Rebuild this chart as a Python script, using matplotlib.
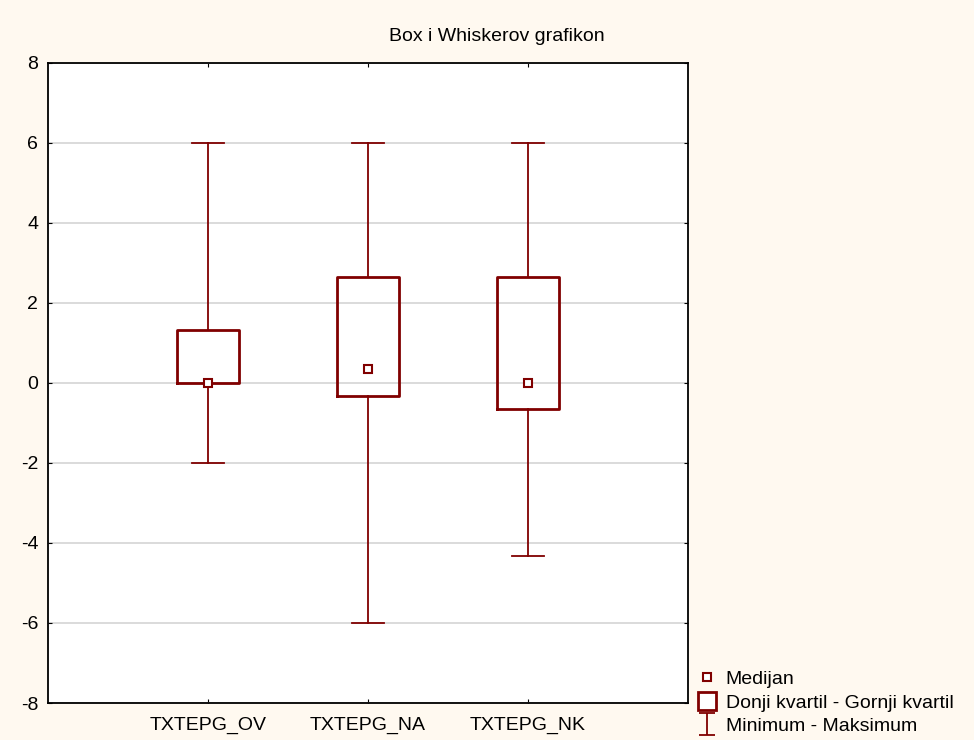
import matplotlib
matplotlib.use("Agg")
import matplotlib.pyplot as plt
from matplotlib.lines import Line2D
from matplotlib.path import Path

plt.rcParams['font.family'] = ['Liberation Sans', 'DejaVu Sans']
plt.rcParams['axes.unicode_minus'] = False

# Box-whisker stats
labels = ["TXTEPG_OV", "TXTEPG_NA", "TXTEPG_NK"]
medians = [0.0, 0.35, 0.0]
q1 = [0.0, -0.32, -0.65]
q3 = [1.32, 2.65, 2.65]
mins = [-2.0, -6.0, -4.33]
maxs = [6.0, 6.0, 6.0]

red = "#800000"
bg = "#FFF9F0"

fig = plt.figure(figsize=(9.74, 7.4), dpi=100, facecolor=bg)
ax = fig.add_axes([0.0493, 0.05, 0.657, 0.865])
ax.set_facecolor("white")

stats = []
for i in range(len(labels)):
    stats.append(dict(med=medians[i], q1=q1[i], q3=q3[i],
                      whislo=mins[i], whishi=maxs[i], label=labels[i]))

pos = [1, 2, 3]
ax.bxp(stats, positions=pos, widths=0.39, capwidths=0.2, showfliers=False,
       boxprops=dict(color=red, linewidth=2),
       whiskerprops=dict(color=red, linewidth=1.3),
       capprops=dict(color=red, linewidth=1.3),
       medianprops=dict(linewidth=0), zorder=3)
ax.plot(pos, medians, 's', ms=6, mfc="white", mec=red, mew=1.5, zorder=4)

ax.set_xlim(0, 4)
ax.set_ylim(-8, 8)
ax.set_yticks(range(-8, 9, 2))
ax.set_xticks(pos)
ax.set_xticklabels(labels)
ax.yaxis.grid(True, color="#d8d8d8", linewidth=1.3)
ax.set_axisbelow(True)
ax.tick_params(direction="in", length=3, labelsize=14, top=True, right=True)
ax.tick_params(axis="y", pad=7)
ax.tick_params(axis="x", pad=10)
for s in ax.spines.values():
    s.set_linewidth(1.3)

fig.text(0.51, 0.951, "Box i Whiskerov grafikon", ha="center", va="center", fontsize=14)

# I-shaped marker for the min-max legend entry
ibar = Path([(-0.7, 1), (0.7, 1), (0, 1), (0, -1), (-0.7, -1), (0.7, -1)],
            [Path.MOVETO, Path.LINETO, Path.MOVETO, Path.LINETO, Path.MOVETO, Path.LINETO])
handles = [
    Line2D([], [], ls="none", marker="s", ms=5.5, mfc="white", mec=red, mew=1.5),
    Line2D([], [], ls="none", marker="s", ms=13, mfc="white", mec=red, mew=2),
    Line2D([], [], ls="none", marker=ibar, ms=16, mec=red, mew=1.3),
]
fig.legend(handles, ["Medijan", "Donji kvartil - Gornji kvartil", "Minimum - Maksimum"],
           loc="lower left", bbox_to_anchor=(0.698, -0.017), frameon=False,
           fontsize=14, handlelength=1.0, handletextpad=0.45, labelspacing=0.3)

fig.savefig("out.png", facecolor=bg)
